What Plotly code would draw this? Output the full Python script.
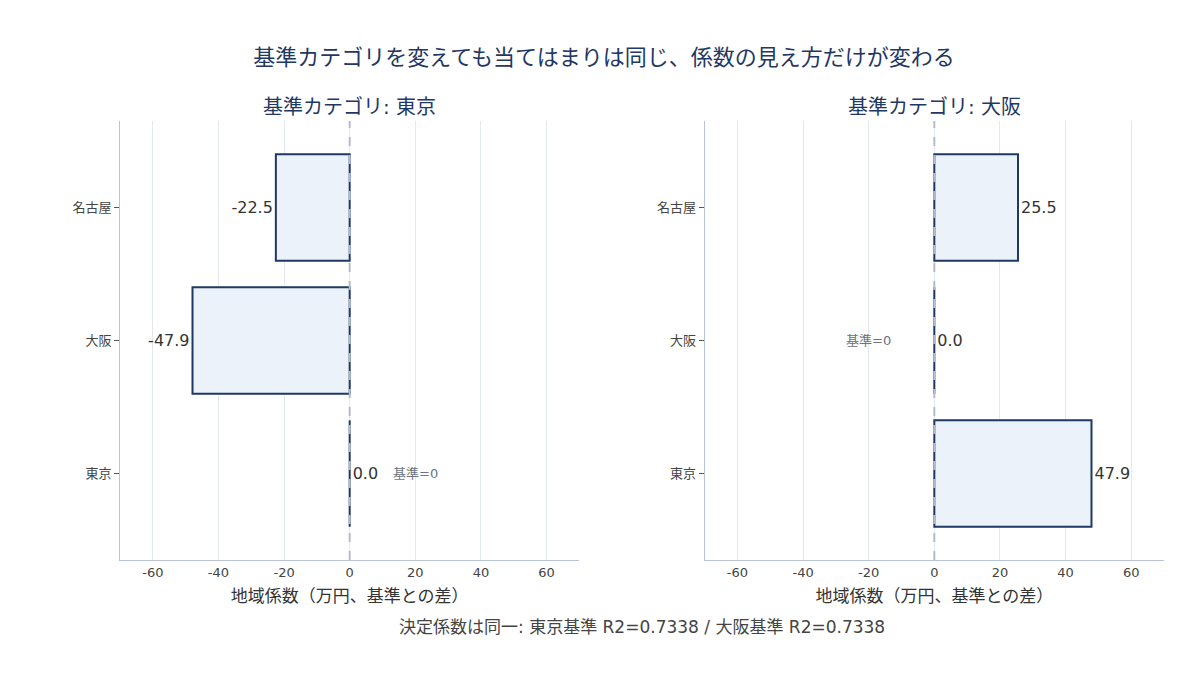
import plotly.graph_objects as go
from plotly.subplots import make_subplots

# 地域ダミーの係数（基準カテゴリ別）
regions = ["東京", "大阪", "名古屋"]
coef_tokyo_base = [0.0, -47.9, -22.5]
coef_osaka_base = [47.9, 0.0, 25.5]
base_labels = ["東京", "大阪"]
r2_values = [0.7338, 0.7338]
x_ticks = [-60, -40, -20, 0, 20, 40, 60]
x_ticktext = ["-60", "-40", "-20", "0", "20", "40", "60"]

NAVY = "#1f3864"
FILL = "#ebf2fa"
FONT = "DejaVu Sans, Noto Sans CJK JP, sans-serif"

fig = make_subplots(rows=1, cols=2, horizontal_spacing=0.12,
                    subplot_titles=[f"基準カテゴリ: {b}" for b in base_labels])

for i, vals in enumerate([coef_tokyo_base, coef_osaka_base]):
    fig.add_trace(go.Bar(
        x=vals, y=regions, orientation="h",
        marker=dict(color=FILL, line=dict(color=NAVY, width=2)),
        text=[f"{v:.1f}" for v in vals], textposition="outside",
        textfont=dict(size=16, color="#333333"), cliponaxis=False,
        showlegend=False,
    ), row=1, col=i + 1)
    fig.add_vline(x=0, line=dict(color="#b4bccb", width=2, dash="dash"), row=1, col=i + 1)

# 基準カテゴリの注記
fig.add_annotation(x=20, y="東京", text="基準=0", showarrow=False,
                   font=dict(size=13, color="#6b7280"), xref="x", yref="y")
fig.add_annotation(x=-20, y="大阪", text="基準=0", showarrow=False,
                   font=dict(size=13, color="#6b7280"), xref="x2", yref="y2")

fig.add_annotation(
    x=0.5, y=-0.18, xref="paper", yref="paper", showarrow=False,
    text=f"決定係数は同一: 東京基準 R2={r2_values[0]:.4f} / 大阪基準 R2={r2_values[1]:.4f}",
    font=dict(size=17, color="#444444"))

fig.update_xaxes(range=[-70, 70], tickvals=x_ticks, ticktext=x_ticktext,
                 showgrid=True, gridcolor="#e3e7ef",
                 zeroline=False, showline=True, linecolor="#b8c4d4",
                 tickfont=dict(size=13, color="#444444"),
                 title=dict(text="地域係数（万円、基準との差）", font=dict(size=17, color="#333333"), standoff=11))
fig.update_yaxes(range=[-0.65, 2.65], categoryorder="array", categoryarray=regions,
                 showgrid=False, zeroline=False, showline=True, linecolor="#b8c4d4",
                 ticks="outside", ticklen=5, tickcolor="#555555",
                 tickfont=dict(size=13, color="#444444"))

for ann in fig.layout.annotations[:2]:
    ann.font = dict(size=20, color=NAVY)

fig.update_layout(
    width=1192, height=667,
    title=dict(text="基準カテゴリを変えても当てはまりは同じ、係数の見え方だけが変わる",
               x=0.5, xanchor="center", y=0.937, font=dict(size=22, color=NAVY)),
    font=dict(family=FONT, color="#333333"),
    plot_bgcolor="white", paper_bgcolor="white",
    margin=dict(l=112, r=36, t=113, b=115),
    bargap=0.2,
)

fig.write_html("out.html")
